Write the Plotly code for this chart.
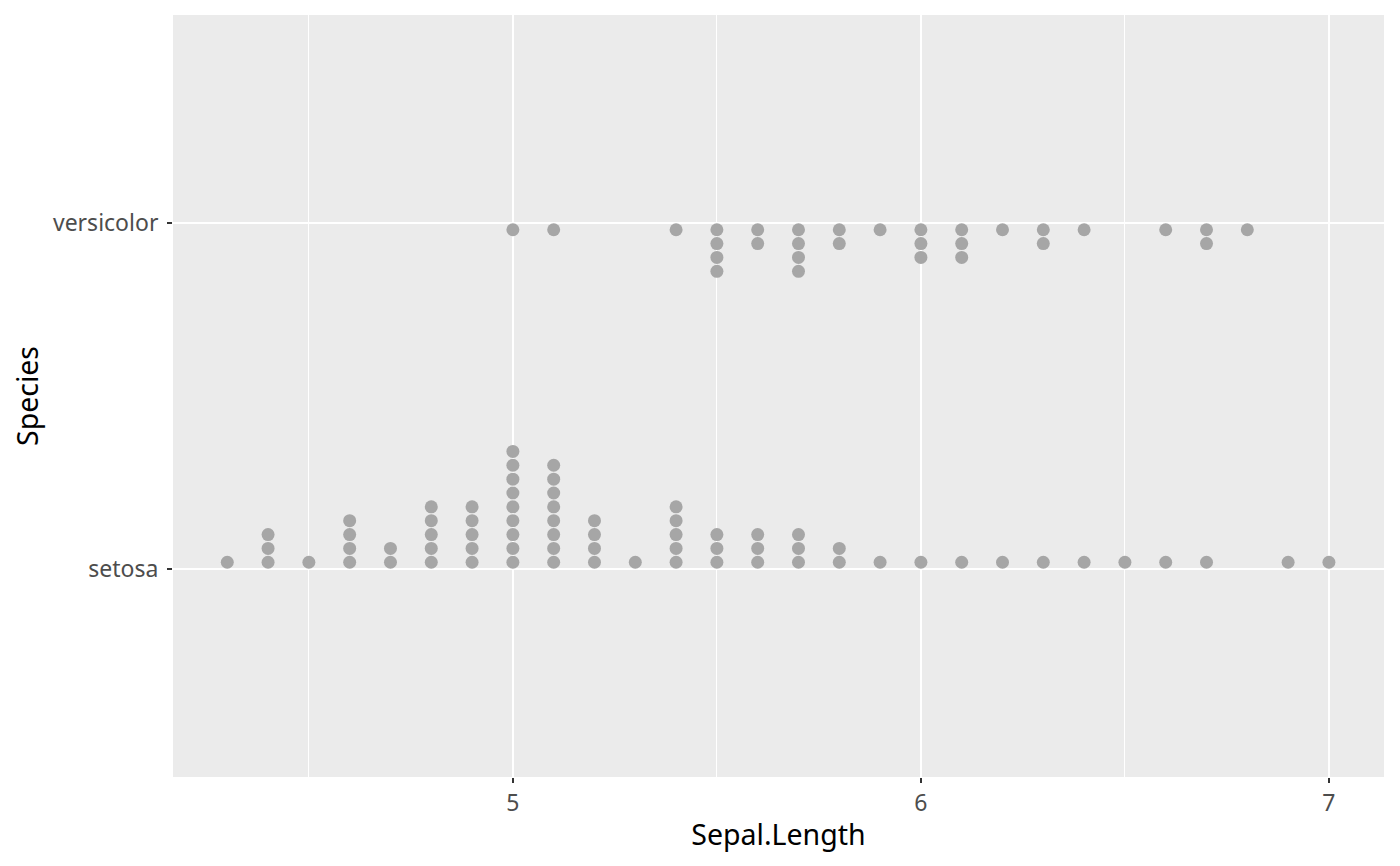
import plotly.graph_objects as go

# dot plot of Sepal.Length by Species (counts)
setosa_x = [4.3, 4.4, 4.5, 4.6, 4.7, 4.8, 4.9, 5.0, 5.1, 5.2, 5.3, 5.4, 5.5, 5.6,
            5.7, 5.8, 5.9, 6.0, 6.1, 6.2, 6.3, 6.4, 6.5, 6.6, 6.7, 6.9, 7.0]
setosa_n = [1, 3, 1, 4, 2, 5, 5, 9, 8, 4, 1, 5, 3, 3,
            3, 2, 1, 1, 1, 1, 1, 1, 1, 1, 1, 1, 1]

versicolor_x = [5.0, 5.1, 5.4, 5.5, 5.6, 5.7, 5.8, 5.9, 6.0, 6.1, 6.2, 6.3, 6.4,
                6.6, 6.7, 6.8]
versicolor_n = [1, 1, 1, 4, 2, 4, 2, 1, 3, 3, 1, 2, 1, 1, 2, 1]

species = ["setosa", "versicolor"]

step = 0.04  # stack spacing in category units


def stack(xs, ns, base, direction):
    px, py = [], []
    for x, n in zip(xs, ns):
        for k in range(n):
            px.append(x)
            py.append(base + direction * (step / 2 + step * k))
    return px, py


sx, sy = stack(setosa_x, setosa_n, 1, 1)
vx, vy = stack(versicolor_x, versicolor_n, 2, -1)

fig = go.Figure()
for xs, ys in [(sx, sy), (vx, vy)]:
    fig.add_trace(go.Scatter(x=xs, y=ys, mode='markers',
                             marker=dict(color='#A6A6A6', size=13, line=dict(width=0)),
                             showlegend=False, hoverinfo='x'))

fig.update_layout(
    width=1400, height=866,
    paper_bgcolor='white', plot_bgcolor='#EBEBEB',
    margin=dict(l=165, r=24, t=7, b=97),
    font=dict(family='Noto Sans', color='black'),
    xaxis=dict(range=[4.167, 7.135], tickvals=[5, 6, 7], ticktext=['5', '6', '7'],
               showgrid=True, gridcolor='white', gridwidth=2.2,
               minor=dict(tickvals=[4.5, 5.5, 6.5], showgrid=True, gridcolor='white', gridwidth=1.1),
               zeroline=False, ticks='outside', ticklen=5, tickwidth=2.2, tickcolor='#333333',
               tickfont=dict(size=23, color='#4D4D4D'),
               title=dict(text='Sepal.Length', font=dict(size=28.5, color='black'), standoff=8)),
    yaxis=dict(range=[0.4, 2.6], tickvals=[1, 2], ticktext=species,
               showgrid=True, gridcolor='white', gridwidth=2.2,
               zeroline=False, ticks='outside', ticklen=5, tickwidth=2.2, tickcolor='#333333',
               tickfont=dict(size=23, color='#4D4D4D'), ticklabelstandoff=4,
               title=dict(text='Species', font=dict(size=28.5, color='black'), standoff=8)),
)

fig.write_html("out.html")
